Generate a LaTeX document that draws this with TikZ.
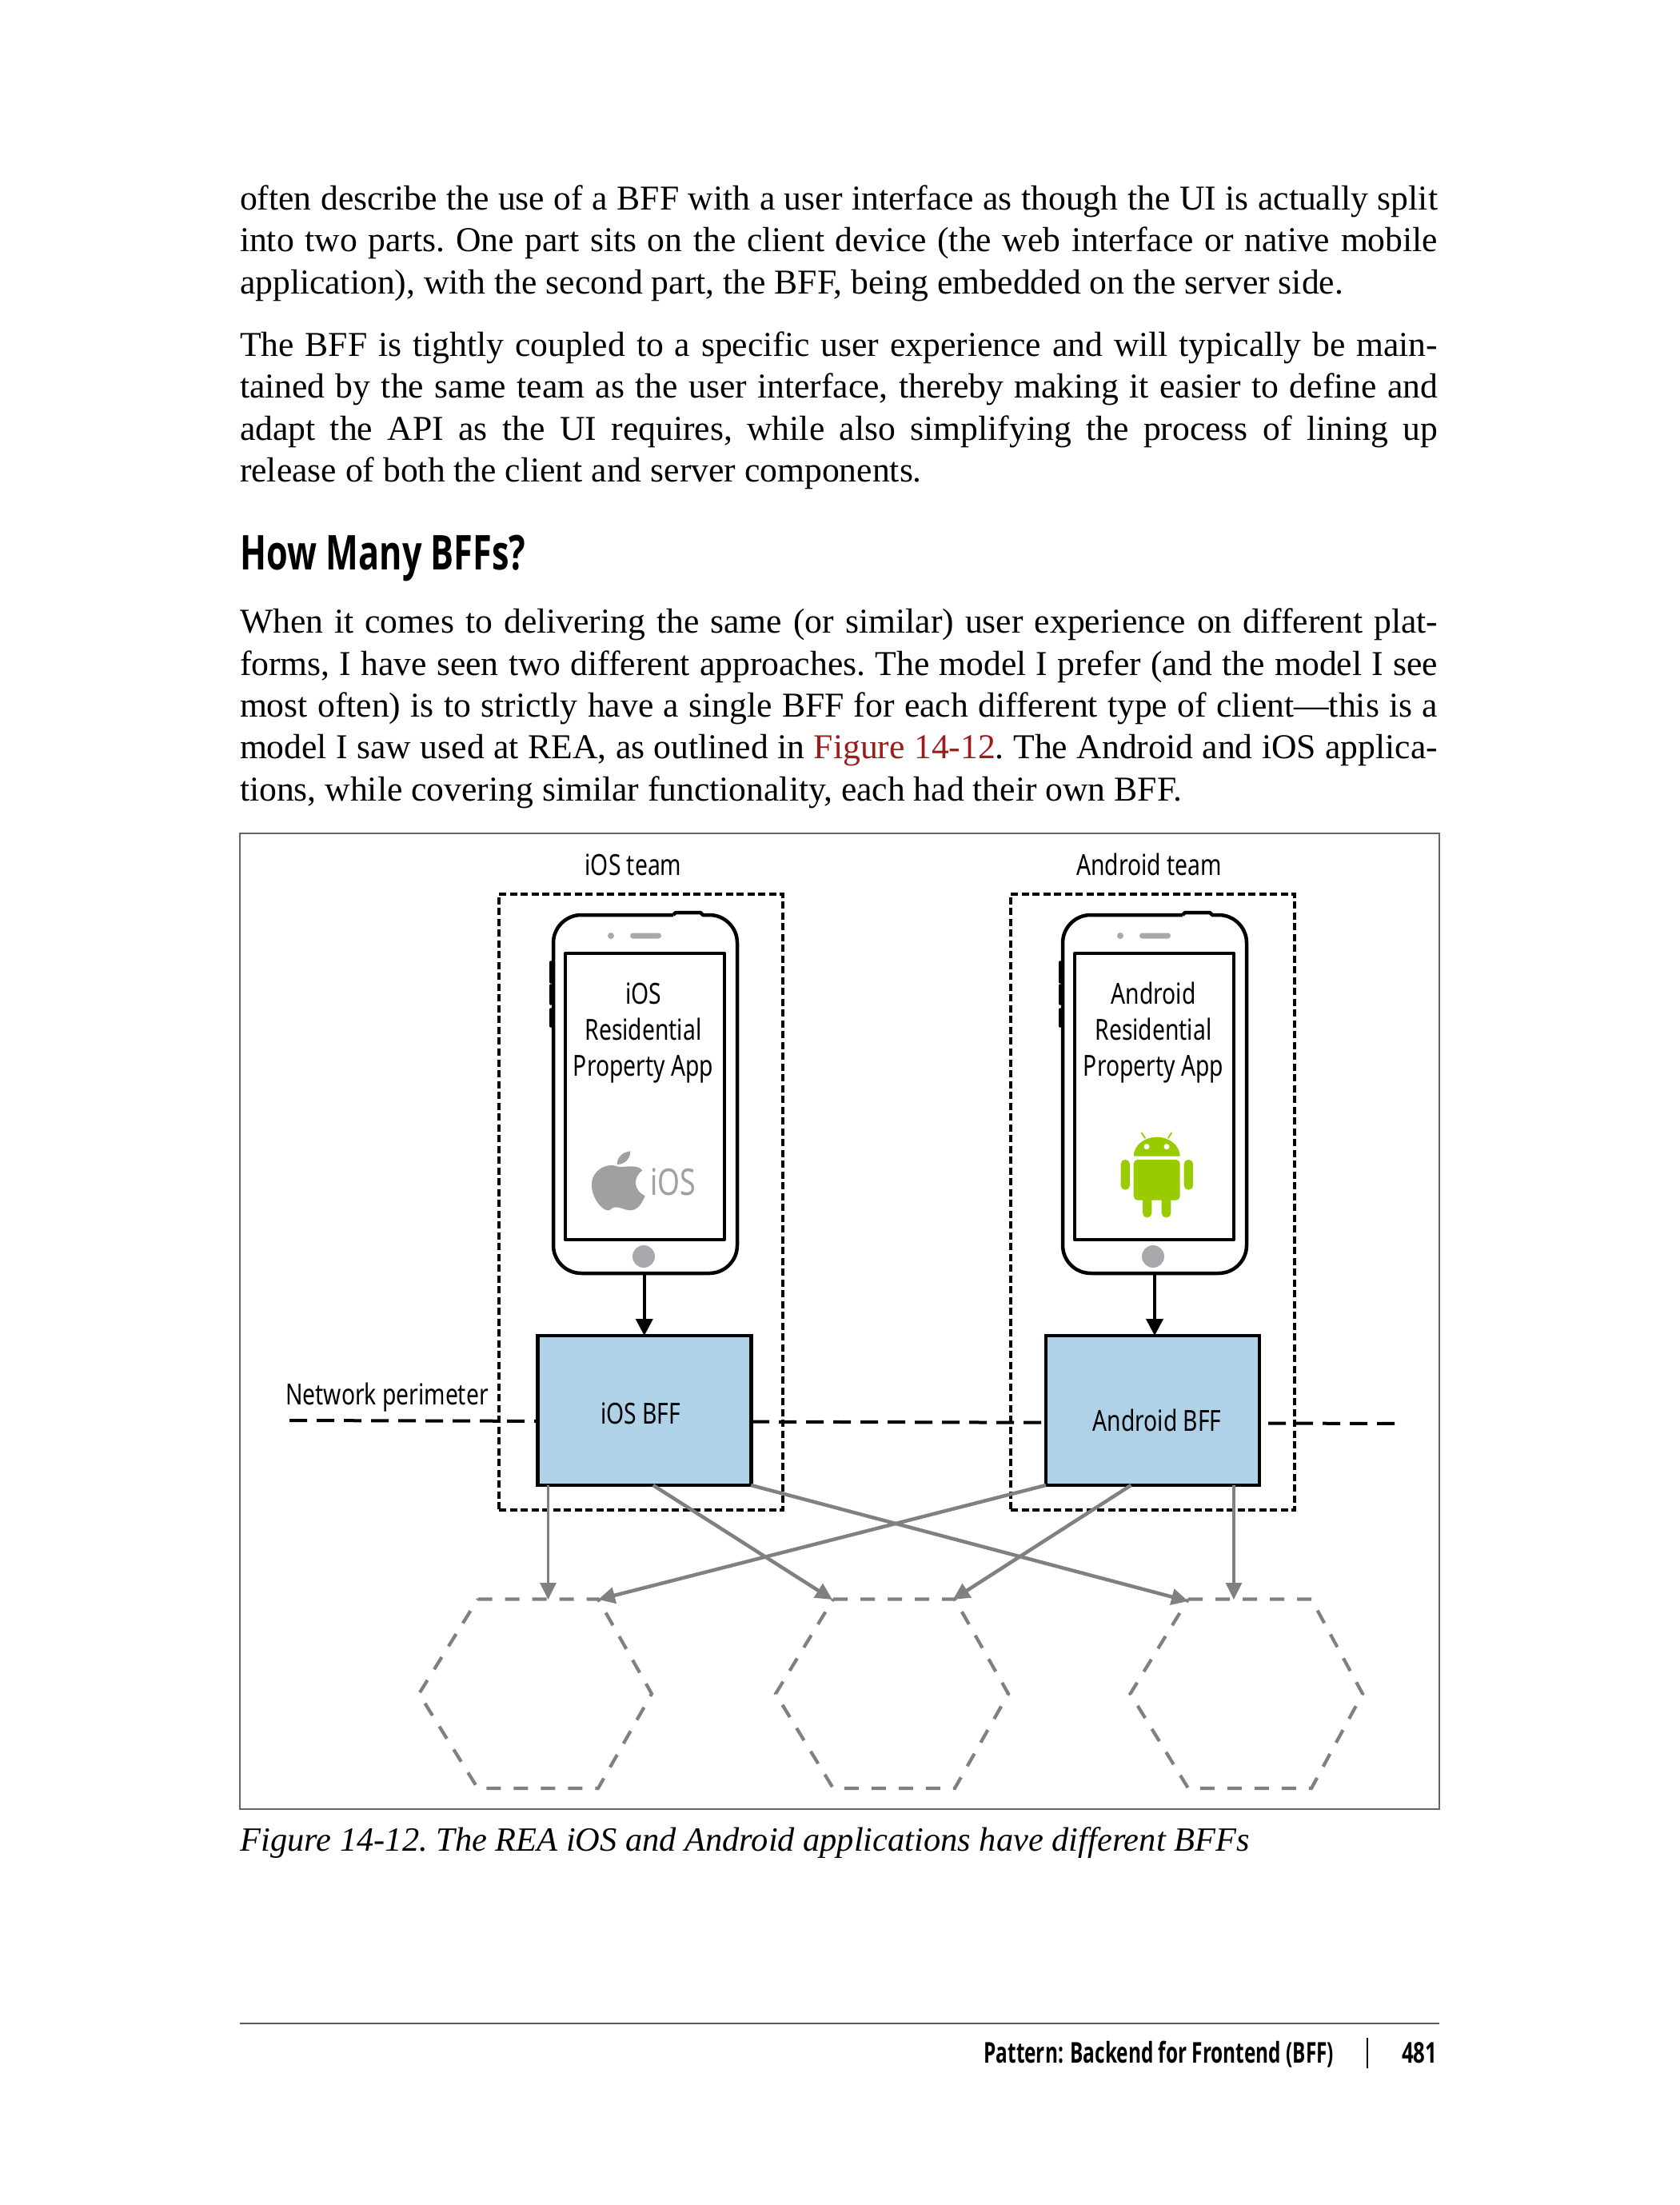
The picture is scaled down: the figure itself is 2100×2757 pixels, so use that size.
\documentclass[tikz,border=0pt]{standalone}
\usepackage{fontspec}
\setmainfont{Liberation Serif}
\newfontfamily\labfont[FakeStretch=0.78]{Noto Sans}
\newfontfamily\headfont[FakeStretch=0.72]{Open Sans}
\newfontfamily\footfont[FakeStretch=0.68]{Open Sans}
\usetikzlibrary{arrows.meta}
\definecolor{bffblue}{HTML}{B0D2E9}
\definecolor{linkred}{HTML}{9B1C1C}
\definecolor{arrowgray}{HTML}{808080}
\definecolor{btngray}{HTML}{A7A9AC}
\definecolor{logogray}{HTML}{A0A0A0}
\definecolor{droid}{HTML}{99CC00}
\def\px{0.24pt}
\tikzset{
  body/.style={anchor=base west,inner sep=0pt,outer sep=0pt,text width=1498*\px,align=justify,
    font=\frenchspacing\fontsize{10.47pt}{12.6pt}\selectfont},
  lab/.style={inner sep=0pt,outer sep=0pt,align=center,font=\labfont\fontsize{8.7pt}{10.8pt}\selectfont},
  teambox/.style={draw=black,line width=4*\px,dash pattern=on 9*\px off 4.5*\px,inner sep=0pt,outer sep=0pt},
  bffbox/.style={draw=black,fill=bffblue,line width=4.5*\px,minimum width=267*\px,minimum height=187*\px,inner sep=0pt,outer sep=0pt},
  phonebox/.style={inner sep=0pt,outer sep=0pt,minimum width=230*\px,minimum height=448*\px},
  outline/.style={draw=black,line width=4.5*\px,line join=round},
  netline/.style={draw=black,line width=4*\px,dash pattern=on 22*\px off 12*\px},
  grayarrow/.style={draw=arrowgray,line width=4.5*\px,-{Triangle[length=21*\px,width=20*\px]}},
  grayarrowthin/.style={grayarrow,line width=3.2*\px},
  blackarrow/.style={draw=black,line width=4*\px,-{Triangle[length=21*\px,width=21*\px]}},
  hexline/.style={draw=arrowgray,line width=4.2*\px,dash pattern=on 18*\px off 16*\px},
  hexbox/.style={inner sep=0pt,outer sep=0pt,minimum width=291*\px,minimum height=236.5*\px},
  frameline/.style={draw=black!60,line width=1.6*\px}
}
\newcommand{\phonebody}[1]{%
  \begin{scope}[shift={(#1,0)}]
    \draw[outline] (150,1144) -- (153,1141) -- (184,1141) -- (187,1144)
      {[rounded corners=35*\px] -- (230,1144) -- (230,1592) -- (0,1592) -- (0,1144) -- (150,1144)};
    \draw[outline] (15,1192) rectangle (214,1550);
    \draw[outline,line width=3.5*\px,line cap=round] (-3,1203) -- (-3,1228) (-3,1232) -- (-3,1255) (-3,1262) -- (-3,1283);
    \fill[btngray,rounded corners=3.5*\px] (96,1166.5) rectangle (135,1173.5);
    \fill[btngray] (72,1170) circle[radius=4];
    \fill[btngray] (113,1571) circle[radius=14];
  \end{scope}}
\begin{document}
\begin{tikzpicture}[x=\px,y=-\px]
\useasboundingbox (0,0) rectangle (2100,2757);
\fill[white] (0,0) rectangle (2100,2757);

% page text
\node[body] (para1) at (300,262.5) {often describe the use of a BFF with a user interface as though the UI is actually split\linebreak
into two parts. One part sits on the client device (the web interface or native mobile\linebreak
application), with the second part, the BFF, being embedded on the server side.};
\node[body] (para2) at (300,445.5) {The BFF is tightly coupled to a specific user experience and will typically be main-\linebreak
tained by the same team as the user interface, thereby making it easier to define and\linebreak
adapt the API as the UI requires, while also simplifying the process of lining up\linebreak
release of both the client and server components.};
\node[anchor=base west,inner sep=0pt,font=\headfont\bfseries\fontsize{14.4pt}{17pt}\selectfont] (heading) at (300,712) {How Many BFFs?};
\node[body] (para3) at (300,791.5) {When it comes to delivering the same (or similar) user experience on different plat-\linebreak
forms, I have seen two different approaches. The model I prefer (and the model I see\linebreak
most often) is to strictly have a single BFF for each different type of client---this is a\linebreak
model I saw used at REA, as outlined in \textcolor{linkred}{Figure 14-12}. The Android and iOS applica-\linebreak
tions, while covering similar functionality, each had their own BFF.};

% figure frame
\node[frameline,inner sep=0pt,outer sep=0pt,minimum width=1500*\px,minimum height=1220*\px] (frame) at (1050,1652) {};
\node[anchor=base west,inner sep=0pt,font=\frenchspacing\itshape\fontsize{10.18pt}{12.6pt}\selectfont] (caption) at (300,2314) {Figure 14-12. The REA iOS and Android applications have different BFFs};

% network perimeter
\coordinate (netL) at (362,1776);
\coordinate (netR) at (1752,1780);
\draw[netline] (netL) -- (netR);
\node[lab] (netlabel) at (484,1747) {Network perimeter};

% team boxes
\node[teambox,minimum width=355*\px,minimum height=770.5*\px] (teamI) at (801.5,1502.75) {};
\node[teambox,minimum width=355*\px,minimum height=770.5*\px] (teamA) at (1441.5,1502.75) {};
\node[lab] (teamIlabel) at (792,1081) {iOS team};
\node[lab] (teamAlabel) at (1437,1081) {Android team};

% phones
\phonebody{692}
\phonebody{1329}
\node[phonebox] (phoneI) at (807,1368) {};
\node[phonebox] (phoneA) at (1444,1368) {};
\node[lab] (appI) at (804.5,1291) {iOS\\Residential\\Property App};
\node[lab] (appA) at (1442.5,1291) {Android\\Residential\\Property App};

% apple logo
\begin{scope}[shift={(680,1380)},x=0.08pt,y=-0.08pt]
  \fill[logogray] (275,235) .. controls (300,243) and (345,222) .. (370,250)
    .. controls (335,275) and (335,325) .. (380,345)
    .. controls (365,385) and (345,400) .. (325,400)
    .. controls (305,400) and (290,388) .. (270,388)
    .. controls (255,388) and (250,402) .. (240,400)
    .. controls (215,398) and (178,350) .. (180,300)
    .. controls (182,250) and (235,220) .. (275,235) -- cycle;
  \fill[logogray] (275,228) .. controls (275,200) and (295,182) .. (325,178)
    .. controls (325,205) and (305,228) .. (275,228) -- cycle;
\end{scope}
\node[inner sep=0pt,text=logogray,font=\labfont\fontsize{11pt}{12pt}\selectfont] (ioslogo) at (842,1478) {iOS};

% android logo
\begin{scope}[droid]
  \fill (1417.7,1445.7) arc[start angle=180,end angle=360,x radius=29,y radius=24] -- cycle;
  \fill[rounded corners=5*\px] (1417.7,1450) -- (1475.7,1450) -- (1475.7,1500.7) -- (1417.7,1500.7) -- cycle;
  \fill[rounded corners=5.4*\px] (1401.7,1450) rectangle (1412.9,1487.7);
  \fill[rounded corners=5.4*\px] (1480.7,1450) rectangle (1492,1487.7);
  \fill[rounded corners=5.4*\px] (1429,1490) rectangle (1440.3,1522.3);
  \fill[rounded corners=5.4*\px] (1452.7,1490) rectangle (1464.3,1522.3);
  \draw[line width=1.8*\px] (1432.3,1423.3) -- (1427.3,1416) (1460.7,1423.3) -- (1465.3,1416);
  \fill[white] (1434,1433.7) circle[radius=3.5] (1459,1433.7) circle[radius=3.5];
\end{scope}

% BFFs
\node[bffbox] (bffI) at (805.75,1763.5) {};
\node[bffbox] (bffA) at (1441.5,1763.5) {};
\node[lab] (bffIlabel) at (801,1767) {iOS BFF};
\node[lab] (bffAlabel) at (1447,1776) {Android BFF};

\draw[blackarrow] (phoneI.south -| bffI.north) -- (bffI.north);
\draw[blackarrow] (phoneA.south) -- (phoneA.south |- bffA.north);

% hexagons
\node[hexbox] (hexA) at (669.5,2117.75) {};
\node[hexbox] (hexB) at (1115.5,2117.75) {};
\node[hexbox] (hexC) at (1558.5,2117.75) {};
\draw[hexline] (597.5,1999.5) -- (748,1999.5) -- (815,2117.75) -- (748,2236) -- (597.5,2236) -- (524,2117.75) -- cycle;
\draw[hexline] (1042,1999.5) -- (1194,1999.5) -- (1261,2117.75) -- (1194,2236) -- (1042,2236) -- (970,2117.75) -- cycle;
\draw[hexline] (1486,1999.5) -- (1640,1999.5) -- (1704,2117.75) -- (1640,2236) -- (1486,2236) -- (1413.5,2117.75) -- cycle;

% gray connectors
\coordinate (a1) at (685.5,2000);
\coordinate (a2) at (748,2000);
\coordinate (b1) at (1041,2000);
\coordinate (b2) at (1191.6,2000);
\coordinate (c1) at (1486,2002);
\coordinate (c2) at (1543,2000);
\draw[grayarrowthin] (bffI.south west -| a1) -- (a1);
\draw[grayarrow] ([xshift=11*\px]bffI.south) -- (b1);
\draw[grayarrow] (bffI.south east) -- (c1);
\draw[grayarrow] (bffA.south west) -- (a2);
\draw[grayarrow] ([xshift=-27*\px]bffA.south) -- (b2);
\draw[grayarrowthin] (bffA.south west -| c2) -- (c2);

% footer
\coordinate (ruleL) at (300,2530);
\coordinate (ruleR) at (1800,2530);
\draw[draw=black!65,line width=2*\px] (ruleL) -- (ruleR);
\node[anchor=base east,inner sep=0pt,font=\footfont\bfseries\fontsize{8.6pt}{10pt}\selectfont] (footer) at (1669,2579) {Pattern: Backend for Frontend (BFF)};
\coordinate (barT) at (1710,2548);
\coordinate (barB) at (1710,2586);
\draw[line width=2.5*\px] (barT) -- (barB);
\node[anchor=base east,inner sep=0pt,font=\headfont\bfseries\fontsize{8.6pt}{10pt}\selectfont] (pageno) at (1798,2579) {481};
\end{tikzpicture}
\end{document}
